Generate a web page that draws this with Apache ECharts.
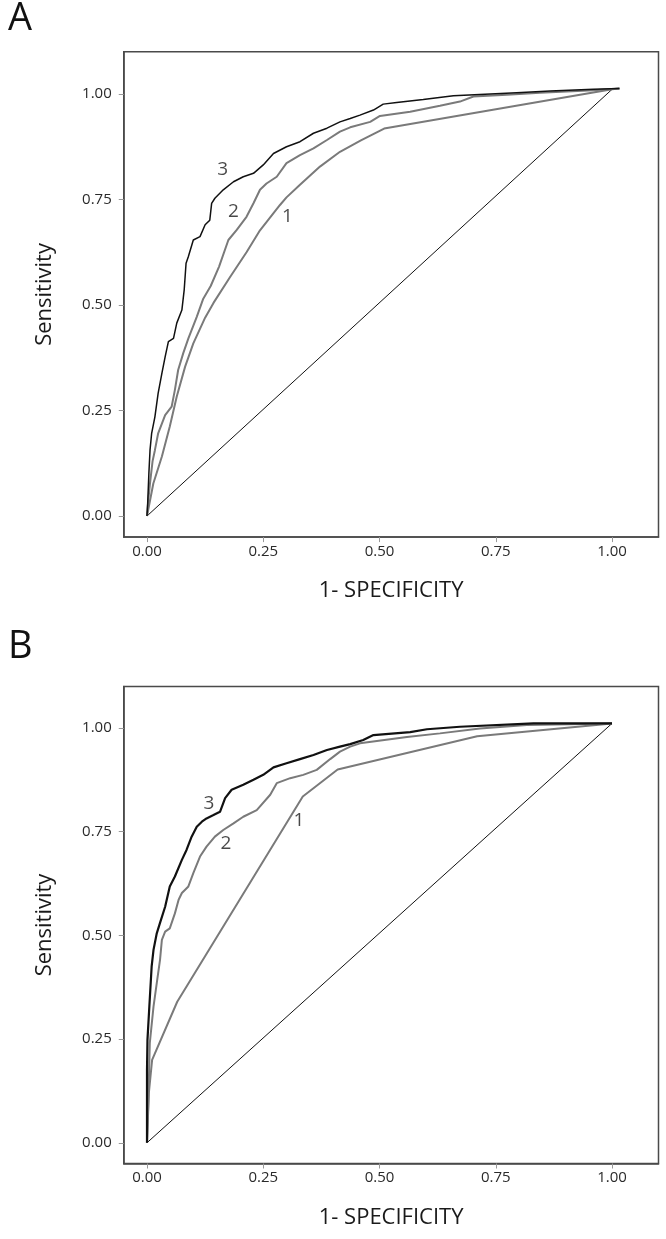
<!DOCTYPE html>
<html>
<head>
<meta charset="utf-8">
<script src="https://cdn.jsdelivr.net/npm/echarts@6/dist/echarts.min.js"></script>
<style>
html,body{margin:0;padding:0;background:#fff;}
#chart{width:666px;height:1239px;}
</style>
</head>
<body>
<div id="chart"></div>
<script>
// ---- data ----
const tickValues = [0, 0.25, 0.5, 0.75, 1];
const panelTitles = ['A', 'B'];
const xAxisTitle = '1- SPECIFICITY';
const yAxisTitle = 'Sensitivity';
const curveNames = ['3', '2', '1'];

const refLine = [[0, 0], [1.0, 1.011]];

const a_curve3 = [[0,0],[0.0015,0.031],[0.004,0.10],[0.0065,0.156],[0.010,0.196],[0.017,0.235],[0.024,0.291],[0.032,0.338],[0.039,0.377],[0.046,0.413],[0.057,0.421],[0.064,0.457],[0.075,0.488],[0.080,0.536],[0.084,0.599],[0.089,0.615],[0.0996,0.654],[0.114,0.662],[0.125,0.690],[0.135,0.701],[0.139,0.741],[0.146,0.753],[0.164,0.773],[0.186,0.792],[0.207,0.804],[0.229,0.812],[0.250,0.832],[0.272,0.859],[0.300,0.875],[0.329,0.887],[0.358,0.907],[0.387,0.919],[0.415,0.934],[0.437,0.942],[0.458,0.950],[0.487,0.962],[0.508,0.976],[0.537,0.980],[0.594,0.987],[0.659,0.996],[0.795,1.003],[0.867,1.007],[0.960,1.011],[1.016,1.013]];
const a_curve2 = [[0,0],[0.003,0.04],[0.0065,0.078],[0.012,0.13],[0.017,0.156],[0.024,0.196],[0.039,0.239],[0.053,0.259],[0.060,0.299],[0.067,0.346],[0.078,0.386],[0.089,0.421],[0.107,0.472],[0.121,0.515],[0.137,0.545],[0.155,0.591],[0.175,0.654],[0.193,0.678],[0.214,0.709],[0.229,0.741],[0.243,0.773],[0.257,0.788],[0.279,0.804],[0.300,0.836],[0.329,0.855],[0.358,0.871],[0.387,0.891],[0.415,0.911],[0.437,0.921],[0.480,0.934],[0.501,0.948],[0.566,0.958],[0.630,0.972],[0.673,0.982],[0.702,0.994],[0.774,0.998],[0.845,1.003],[0.960,1.009],[1.016,1.013]];
const a_curve1 = [[0,0],[0.0136,0.077],[0.032,0.141],[0.049,0.212],[0.064,0.283],[0.082,0.354],[0.0996,0.409],[0.125,0.47],[0.143,0.505],[0.178,0.565],[0.214,0.625],[0.243,0.677],[0.286,0.737],[0.300,0.755],[0.329,0.785],[0.372,0.828],[0.415,0.863],[0.46,0.89],[0.51,0.918],[1.0,1.011],[1.016,1.013]];
const a_labelPos = [[0.163,0.820],[0.186,0.721],[0.302,0.709]];

const b_curve3 = [[0,0],[0,0.176],[0.001,0.248],[0.005,0.328],[0.010,0.425],[0.014,0.465],[0.021,0.505],[0.028,0.53],[0.039,0.569],[0.049,0.618],[0.060,0.642],[0.075,0.682],[0.085,0.706],[0.096,0.738],[0.107,0.762],[0.118,0.774],[0.128,0.782],[0.143,0.790],[0.157,0.798],[0.168,0.831],[0.182,0.851],[0.207,0.863],[0.229,0.875],[0.250,0.887],[0.272,0.905],[0.300,0.915],[0.329,0.925],[0.358,0.935],[0.387,0.947],[0.415,0.955],[0.437,0.961],[0.465,0.971],[0.487,0.983],[0.566,0.990],[0.602,0.997],[0.673,1.003],[0.831,1.011],[1.0,1.011]];
const b_curve2 = [[0,0],[0.003,0.104],[0.006,0.240],[0.014,0.328],[0.021,0.385],[0.028,0.441],[0.032,0.489],[0.039,0.509],[0.049,0.517],[0.060,0.553],[0.068,0.586],[0.075,0.602],[0.089,0.618],[0.0996,0.650],[0.114,0.690],[0.128,0.714],[0.146,0.738],[0.164,0.754],[0.186,0.770],[0.207,0.786],[0.236,0.802],[0.265,0.839],[0.279,0.867],[0.308,0.879],[0.336,0.887],[0.365,0.899],[0.394,0.925],[0.415,0.943],[0.437,0.955],[0.458,0.963],[0.559,0.978],[0.630,0.987],[0.716,0.999],[0.817,1.007],[1.0,1.011]];
const b_curve1 = [[0,0],[0.004,0.12],[0.011,0.20],[0.065,0.34],[0.335,0.835],[0.41,0.90],[0.71,0.98],[1.0,1.011]];
const b_labelPos = [[0.133,0.818],[0.170,0.721],[0.327,0.776]];

// ---- chart ----
const FONT = 'Open Sans';
const chart = echarts.init(document.getElementById('chart'), null, {renderer: 'canvas'});

function xAx(gi) {
  return {
    type: 'value', gridIndex: gi, min: -0.05, max: 1.1,
    name: xAxisTitle, nameLocation: 'middle', nameGap: 43,
    nameTextStyle: {fontFamily: FONT, fontSize: 22, color: '#1a1a1a'},
    axisLine: {show: true, onZero: false, lineStyle: {color: '#4a4a4a', width: 1.5}},
    axisTick: {show: true, length: 5, customValues: tickValues, lineStyle: {color: '#999', width: 1}},
    axisLabel: {show: true, margin: 7, customValues: tickValues, fontFamily: FONT, fontSize: 15, color: '#2a2a2a',
      formatter: v => v.toFixed(2)},
    splitLine: {show: false}
  };
}
function yAx(gi) {
  return {
    type: 'value', gridIndex: gi, min: -0.05, max: 1.1,
    name: yAxisTitle, nameLocation: 'middle', nameGap: 68, nameRotate: 90,
    nameTextStyle: {fontFamily: FONT, fontSize: 22, color: '#1a1a1a'},
    axisLine: {show: true, onZero: false, lineStyle: {color: '#4a4a4a', width: 1.5}},
    axisTick: {show: true, length: 5, customValues: tickValues, lineStyle: {color: '#999', width: 1}},
    axisLabel: {show: true, margin: 12, customValues: tickValues, fontFamily: FONT, fontSize: 15, color: '#2a2a2a',
      formatter: v => v.toFixed(2)},
    splitLine: {show: false}
  };
}
function lineSeries(gi, data, color, width, z) {
  return {type: 'line', xAxisIndex: gi, yAxisIndex: gi, data: data, showSymbol: false, symbol: 'none',
    lineStyle: {color: color, width: width}, z: z, silent: true, animation: false};
}
function labelSeries(gi, pos) {
  return {type: 'scatter', xAxisIndex: gi, yAxisIndex: gi, symbolSize: 0, silent: true, animation: false,
    data: pos.map((p, i) => ({name: curveNames[i], value: p})),
    label: {show: true, position: 'inside', formatter: p => p.name, fontFamily: FONT, fontSize: 19, color: '#1a1a1a'}};
}

const option = {
  backgroundColor: '#fff',
  animation: false,
  title: [
    {text: panelTitles[0], left: 3, top: -5, textStyle: {fontFamily: FONT, fontSize: 38, fontWeight: 'normal', color: '#111'}},
    {text: panelTitles[1], left: 3, top: 623, textStyle: {fontFamily: FONT, fontSize: 38, fontWeight: 'normal', color: '#111'}}
  ],
  grid: [
    {left: 123.75, top: 51.8, width: 534.75, height: 485.3, show: true, borderColor: '#4a4a4a', borderWidth: 1.5, backgroundColor: 'transparent'},
    {left: 123.75, top: 686.5, width: 534.75, height: 477, show: true, borderColor: '#4a4a4a', borderWidth: 1.5, backgroundColor: 'transparent'}
  ],
  xAxis: [xAx(0), xAx(1)],
  yAxis: [yAx(0), yAx(1)],
  series: [
    lineSeries(0, refLine, '#111', 1, 1),
    lineSeries(0, a_curve1, '#7a7a7a', 2, 2),
    lineSeries(0, a_curve2, '#7a7a7a', 2, 3),
    lineSeries(0, a_curve3, '#111', 1.5, 4),
    labelSeries(0, a_labelPos),
    lineSeries(1, refLine, '#111', 1, 1),
    lineSeries(1, b_curve1, '#7a7a7a', 2, 2),
    lineSeries(1, b_curve2, '#7a7a7a', 2, 3),
    lineSeries(1, b_curve3, '#111', 2.2, 4),
    labelSeries(1, b_labelPos)
  ]
};
chart.setOption(option);
</script>
</body>
</html>
